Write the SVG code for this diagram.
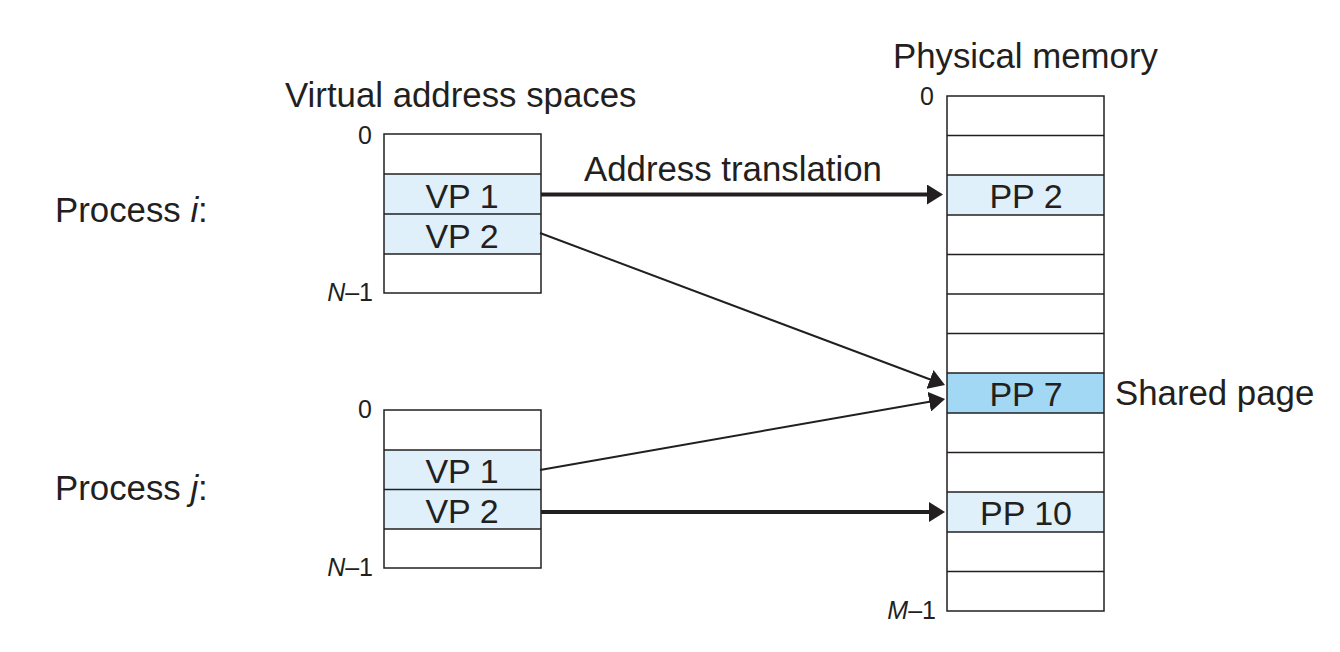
<svg xmlns="http://www.w3.org/2000/svg" width="1340" height="652" viewBox="0 0 1340 652">
<style>
text{font-family:"Liberation Sans",Arial,sans-serif;fill:#231f20}
.big{font-size:34.8px}
.cell{font-size:34px;text-anchor:middle}
.small{font-size:25px;text-anchor:end}
.it{font-style:italic}
.box{fill:none;stroke:#231f20;stroke-width:1.5}
.row{stroke:#231f20;stroke-width:1.5}
.lb{fill:#dff0fa}
.sh{fill:#a3d8f4}
.thick{stroke:#231f20;stroke-width:4;fill:none}
.thin{stroke:#231f20;stroke-width:2;fill:none}
</style>
<defs>
<marker id="ah" markerUnits="userSpaceOnUse" markerWidth="16" markerHeight="20" refX="6" refY="10" orient="auto" viewBox="0 0 16 20">
<path d="M0,0 L16,10 L0,20 z" fill="#231f20"/>
</marker>
</defs>
<rect width="1340" height="652" fill="#fff"/>

<text class="big" x="285" y="107">Virtual address spaces</text>
<text class="big" x="893" y="68">Physical memory</text>

<g id="process-i-label"><text class="big" x="55" y="222">Process <tspan class="it">i</tspan>:</text></g>
<g id="process-j-label"><text class="big" x="55" y="500">Process <tspan class="it">j</tspan>:</text></g>

<g id="vas-i">
<rect class="lb" x="384" y="174" width="157" height="80"/>
<rect class="box" x="384" y="134" width="157" height="159"/>
<line class="row" x1="384" y1="174" x2="541" y2="174"/>
<line class="row" x1="384" y1="214" x2="541" y2="214"/>
<line class="row" x1="384" y1="254" x2="541" y2="254"/>
<text class="cell" x="462" y="208">VP 1</text>
<text class="cell" x="462" y="248">VP 2</text>
<text class="small" x="372" y="144">0</text>
<text class="small" x="373" y="301"><tspan class="it">N</tspan>–1</text>
</g>

<g id="vas-j">
<rect class="lb" x="384" y="450" width="157" height="79"/>
<rect class="box" x="384" y="410" width="157" height="158"/>
<line class="row" x1="384" y1="450" x2="541" y2="450"/>
<line class="row" x1="384" y1="489.5" x2="541" y2="489.5"/>
<line class="row" x1="384" y1="529" x2="541" y2="529"/>
<text class="cell" x="462" y="483">VP 1</text>
<text class="cell" x="462" y="523">VP 2</text>
<text class="small" x="372" y="418">0</text>
<text class="small" x="373" y="576"><tspan class="it">N</tspan>–1</text>
</g>

<g id="physical-memory">
<rect class="lb" x="947" y="175" width="157" height="40"/>
<rect class="sh" x="947" y="373" width="157" height="40"/>
<rect class="lb" x="947" y="492" width="157" height="40"/>
<rect class="box" x="947" y="96" width="157" height="515"/>
<line class="row" x1="947" y1="135.5" x2="1104" y2="135.5"/>
<line class="row" x1="947" y1="175" x2="1104" y2="175"/>
<line class="row" x1="947" y1="215" x2="1104" y2="215"/>
<line class="row" x1="947" y1="254.5" x2="1104" y2="254.5"/>
<line class="row" x1="947" y1="294" x2="1104" y2="294"/>
<line class="row" x1="947" y1="333.5" x2="1104" y2="333.5"/>
<line class="row" x1="947" y1="373" x2="1104" y2="373"/>
<line class="row" x1="947" y1="413" x2="1104" y2="413"/>
<line class="row" x1="947" y1="452.5" x2="1104" y2="452.5"/>
<line class="row" x1="947" y1="492" x2="1104" y2="492"/>
<line class="row" x1="947" y1="532" x2="1104" y2="532"/>
<line class="row" x1="947" y1="571.5" x2="1104" y2="571.5"/>
<text class="cell" x="1026" y="208">PP 2</text>
<text class="cell" x="1026" y="406">PP 7</text>
<text class="cell" x="1026" y="525">PP 10</text>
<text class="small" x="934" y="105">0</text>
<text class="small" x="936" y="619"><tspan class="it">M</tspan>–1</text>
<text class="big" x="1115" y="405">Shared page</text>
</g>

<g id="connectors">
<line class="thick" x1="541" y1="194.5" x2="933" y2="194.5" marker-end="url(#ah)"/>
<text class="big" x="584" y="181">Address translation</text>
<line class="thin" x1="540" y1="233" x2="935.6" y2="381.5" marker-end="url(#ah)"/>
<line class="thin" x1="540" y1="470" x2="935.2" y2="400.7" marker-end="url(#ah)"/>
<line class="thick" x1="541" y1="512" x2="935" y2="512" marker-end="url(#ah)"/>
</g>
</svg>
